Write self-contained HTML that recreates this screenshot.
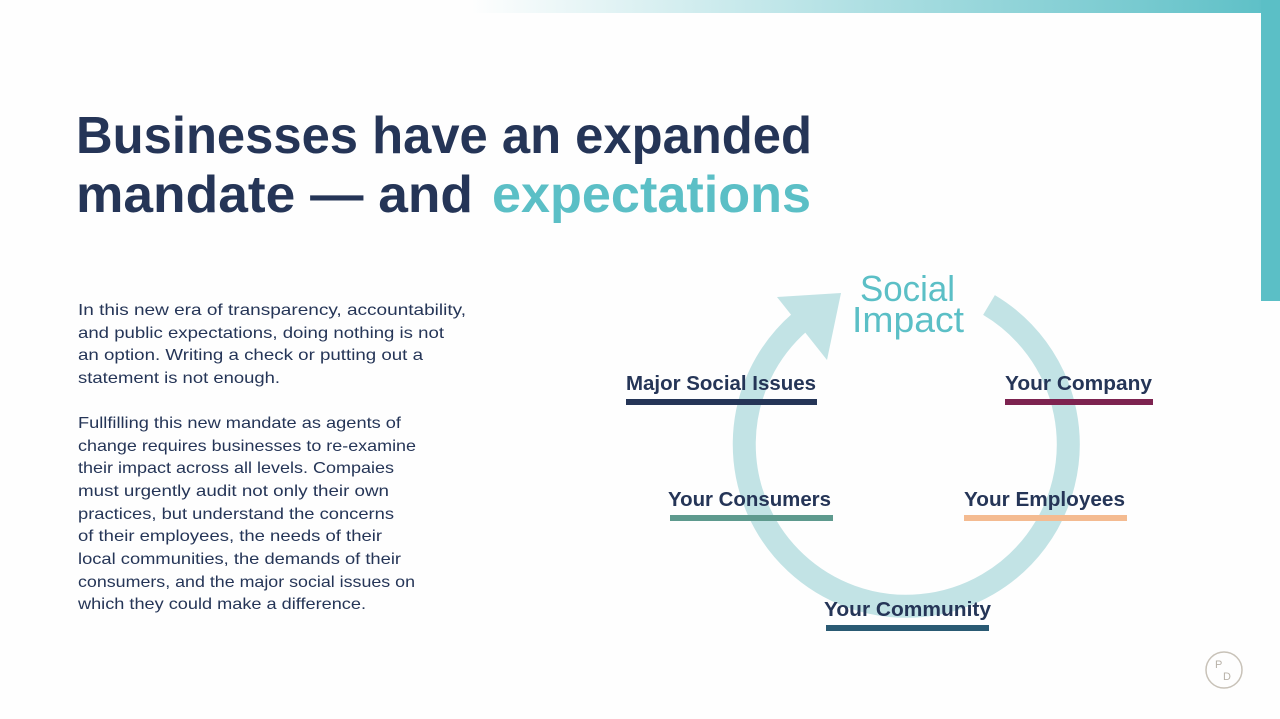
<!DOCTYPE html>
<html><head><meta charset="utf-8"><style>
html,body{margin:0;padding:0;background:#fff;}
svg{display:block;}
</style></head><body>
<svg width="1280" height="719" viewBox="0 0 1280 719" xmlns="http://www.w3.org/2000/svg" font-family="'Liberation Sans', sans-serif">
<defs>
<linearGradient id="g" x1="0" x2="1" y1="0" y2="0">
<stop offset="0" stop-color="#5bbfc6" stop-opacity="0"/>
<stop offset="1" stop-color="#5bbfc6"/>
</linearGradient>
</defs>
<rect width="1280" height="719" fill="#fefefe"/>
<rect x="470" y="0" width="810" height="13" fill="url(#g)"/>
<rect x="1261" y="0" width="19" height="301" fill="#5bbfc6"/>

<g fill="#253557" font-weight="bold" font-size="52">
<text x="76" y="153" textLength="736" lengthAdjust="spacingAndGlyphs">Businesses have an expanded</text>
<text x="76" y="212" textLength="397" lengthAdjust="spacingAndGlyphs">mandate — and</text>
<text x="492" y="212" fill="#5bbfc6" textLength="319" lengthAdjust="spacingAndGlyphs">expectations</text>
</g>

<g fill="#253557" font-size="16" lengthAdjust="spacingAndGlyphs">
<text x="78" y="315" textLength="388" lengthAdjust="spacingAndGlyphs">In this new era of transparency, accountability,</text>
<text x="78" y="338" textLength="366" lengthAdjust="spacingAndGlyphs">and public expectations, doing nothing is not</text>
<text x="78" y="360" textLength="345" lengthAdjust="spacingAndGlyphs">an option. Writing a check or putting out a</text>
<text x="78" y="383" textLength="202" lengthAdjust="spacingAndGlyphs">statement is not enough.</text>
<text x="78" y="428" textLength="323" lengthAdjust="spacingAndGlyphs">Fullfilling this new mandate as agents of</text>
<text x="78" y="451" textLength="338" lengthAdjust="spacingAndGlyphs">change requires businesses to re-examine</text>
<text x="78" y="473" textLength="316" lengthAdjust="spacingAndGlyphs">their impact across all levels. Compaies</text>
<text x="78" y="496" textLength="311" lengthAdjust="spacingAndGlyphs">must urgently audit not only their own</text>
<text x="78" y="519" textLength="316" lengthAdjust="spacingAndGlyphs">practices, but understand the concerns</text>
<text x="78" y="541" textLength="304" lengthAdjust="spacingAndGlyphs">of their employees, the needs of their</text>
<text x="78" y="564" textLength="323" lengthAdjust="spacingAndGlyphs">local communities, the demands of their</text>
<text x="78" y="587" textLength="337" lengthAdjust="spacingAndGlyphs">consumers, and the major social issues on</text>
<text x="78" y="609" textLength="288" lengthAdjust="spacingAndGlyphs">which they could make a difference.</text>
</g>

<!-- cycle arrow -->
<path d="M989 305 A162 162 0 1 1 800 322" fill="none" stroke="#c2e3e5" stroke-width="23"/>
<polygon points="777,297 841,293 827,360" fill="#c2e3e5"/>

<g fill="#5bbfc6" font-size="36">
<text x="860" y="301" textLength="95" lengthAdjust="spacingAndGlyphs">Social</text>
<text x="852" y="332" textLength="112" lengthAdjust="spacingAndGlyphs">Impact</text>
</g>

<g fill="#253557" font-size="20" font-weight="bold">
<text x="626" y="390" textLength="190" lengthAdjust="spacingAndGlyphs">Major Social Issues</text>
<text x="1005" y="390" textLength="147" lengthAdjust="spacingAndGlyphs">Your Company</text>
<text x="668" y="506" textLength="163" lengthAdjust="spacingAndGlyphs">Your Consumers</text>
<text x="964" y="506" textLength="161" lengthAdjust="spacingAndGlyphs">Your Employees</text>
<text x="824" y="616" textLength="167" lengthAdjust="spacingAndGlyphs">Your Community</text>
</g>
<rect x="626" y="399" width="191" height="6" fill="#253557"/>
<rect x="1005" y="399" width="148" height="6" fill="#7d2350"/>
<rect x="670" y="515" width="163" height="6" fill="#5e9a8e"/>
<rect x="964" y="515" width="163" height="6" fill="#f4bb91"/>
<rect x="826" y="625" width="163" height="6" fill="#2a5a73"/>

<ellipse cx="1224" cy="670" rx="18" ry="18" fill="none" stroke="#c8c2b8" stroke-width="1.5"/>
<text x="1215" y="668" font-size="11" fill="#b8b2a8">P</text>
<text x="1223" y="680" font-size="11" fill="#b8b2a8">D</text>
</svg>
</body></html>
